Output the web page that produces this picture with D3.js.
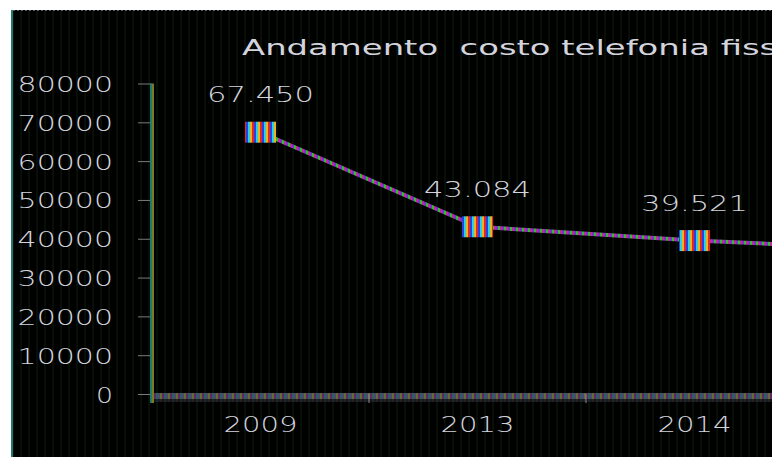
<!DOCTYPE html>
<html>
<head>
<meta charset="utf-8">
<script src="https://cdn.jsdelivr.net/npm/d3@7.9.0/dist/d3.min.js"></script>
<style>
  html, body { margin: 0; padding: 0; background: #fff; overflow: hidden; }
  svg { display: block; font-family: "DejaVu Sans", sans-serif; }
</style>
</head>
<body>
<svg id="chart" width="772" height="457"></svg>
<script>
// values (last point sits past the right edge)
const years = ['2009', '2013', '2014', '2015'];
const costs = [67450, 43084, 39521, 37100];
const yTicks = [0, 10000, 20000, 30000, 40000, 50000, 60000, 70000, 80000];
const title = 'Andamento  costo telefonia fissa';

const W = 772;
const itFormat = d3.formatLocale({ decimal: ',', thousands: '.', grouping: [3], currency: ['€', ''] }).format(',');

const svg = d3.select('#chart');
const textColor = '#d4d4de';
const textWeight = 200;

// stripy patterns to get the smeared look of the original
const defs = svg.append('defs');
function stripes(id, colors, w) {
  const p = defs.append('pattern')
    .attr('id', id)
    .attr('patternUnits', 'userSpaceOnUse')
    .attr('width', colors.length * w)
    .attr('height', 10);
  colors.forEach((c, i) => {
    p.append('rect').attr('x', i * w).attr('y', 0).attr('width', w).attr('height', 10).attr('fill', c);
  });
}
stripes('bg', ['#000', '#000', '#061006', '#000'], 2);
stripes('lineFill', ['#30c030', '#c02aa0', '#7a34c8'], 2);
stripes('markFill', ['#28d0e0', '#f0b020', '#e02828', '#2a40e0'], 2);
stripes('axisFill', ['#6a6a36', '#5a2a62', '#2e6060', '#4a4a70'], 2);

// chart area
svg.append('rect')
  .attr('x', 11).attr('y', 10)
  .attr('width', W).attr('height', 457)
  .attr('fill', 'url(#bg)');
svg.append('line')
  .attr('x1', 12).attr('x2', 12).attr('y1', 10).attr('y2', 457)
  .attr('stroke', '#1a7a72').attr('stroke-width', 2);
svg.append('line')
  .attr('x1', 13).attr('x2', W).attr('y1', 10.5).attr('y2', 10.5)
  .attr('stroke', '#5a5a6a').attr('stroke-dasharray', '2,2');

const x = d3.scaleBand().domain(years).range([152, 1020]);
const y = d3.scaleLinear().domain([0, 80000]).range([394, 83.5]);
const cx = d => x(d) + x.bandwidth() / 2;
const visible = d => cx(d) < W;

// title (cut at the right edge, as in the original)
svg.append('text')
  .attr('x', 242).attr('y', 55)
  .attr('font-size', 21)
  .attr('fill', textColor)
  .attr('xml:space', 'preserve')
  .attr('textLength', 556)
  .attr('lengthAdjust', 'spacingAndGlyphs')
  .text(title);

// y axis
const yAxis = svg.append('g')
  .attr('transform', 'translate(152,0)')
  .call(d3.axisLeft(y).tickValues(yTicks).tickSize(14).tickSizeOuter(0).tickPadding(25).tickFormat(d3.format('d')));
yAxis.select('.domain').remove();
yAxis.selectAll('.tick line').attr('stroke', '#7a7a80').attr('stroke-width', 1);
yAxis.selectAll('.tick text')
  .attr('fill', textColor)
  .attr('font-size', 22)
  .attr('font-weight', textWeight)
  .attr('font-family', '"DejaVu Sans", sans-serif')
  .attr('dy', 8)
  .attr('textLength', d => String(d).length * 19.6 - 2.6)
  .attr('lengthAdjust', 'spacingAndGlyphs');
svg.append('line')
  .attr('x1', 151).attr('x2', 151).attr('y1', y(80000)).attr('y2', 403)
  .attr('stroke', '#1f7a6a').attr('stroke-width', 2);
svg.append('line')
  .attr('x1', 153).attr('x2', 153).attr('y1', y(80000)).attr('y2', 403)
  .attr('stroke', '#7a7a20').attr('stroke-width', 2);

// x axis band
svg.append('rect')
  .attr('x', 154).attr('y', y(0) - 1)
  .attr('width', 900).attr('height', 6)
  .attr('fill', 'url(#axisFill)');
svg.append('rect')
  .attr('x', 154).attr('y', y(0) + 5)
  .attr('width', 900).attr('height', 3)
  .attr('fill', 'url(#axisFill)').attr('opacity', 0.35);
svg.selectAll('.xtick')
  .data(years.slice(1))
  .join('line')
  .attr('class', 'xtick')
  .attr('x1', d => x(d)).attr('x2', d => x(d))
  .attr('y1', y(0)).attr('y2', y(0) + 9)
  .attr('stroke', '#8a8a90');

const xAxis = svg.append('g')
  .attr('transform', `translate(0,${y(0)})`)
  .call(d3.axisBottom(x).tickValues(years.filter(visible)).tickSize(0).tickPadding(0));
xAxis.select('.domain').remove();
xAxis.selectAll('.tick text')
  .attr('fill', textColor)
  .attr('font-size', 21)
  .attr('font-weight', textWeight)
  .attr('font-family', '"DejaVu Sans", sans-serif')
  .attr('y', 38).attr('dy', 0)
  .attr('textLength', 74)
  .attr('lengthAdjust', 'spacingAndGlyphs');

// line + markers
const line = d3.line().x((d, i) => cx(years[i])).y(d => y(d));
svg.append('path')
  .datum(costs)
  .attr('d', line)
  .attr('fill', 'none')
  .attr('stroke', 'url(#lineFill)')
  .attr('stroke-width', 4);

svg.selectAll('.mark')
  .data(costs)
  .join('rect')
  .attr('class', 'mark')
  .attr('x', (d, i) => cx(years[i]) - 15.5)
  .attr('y', d => y(d) - 10.5)
  .attr('width', 31).attr('height', 21)
  .attr('fill', 'url(#markFill)');

svg.selectAll('.val')
  .data(costs.filter((d, i) => visible(years[i])))
  .join('text')
  .attr('class', 'val')
  .attr('x', (d, i) => cx(years[i]))
  .attr('y', d => y(d) - 30)
  .attr('text-anchor', 'middle')
  .attr('font-size', 21)
  .attr('font-weight', textWeight)
  .attr('fill', textColor)
  .attr('textLength', 107)
  .attr('lengthAdjust', 'spacingAndGlyphs')
  .text(d => itFormat(d));
</script>
</body>
</html>
